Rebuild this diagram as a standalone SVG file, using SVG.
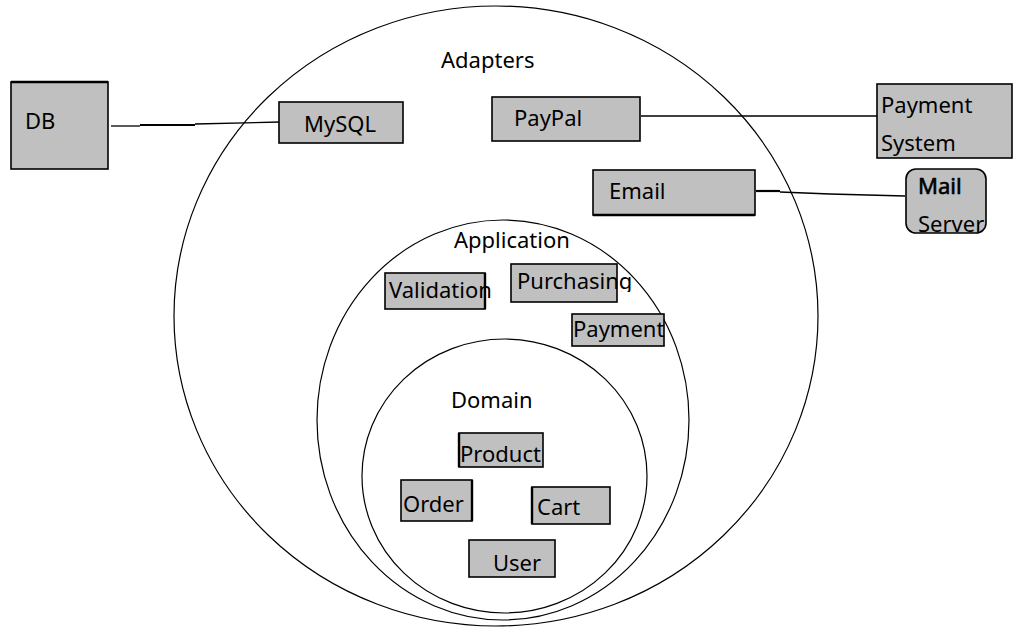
<svg xmlns="http://www.w3.org/2000/svg" width="1024" height="633" viewBox="0 0 1024 633">
<style>
.ring{fill:none;stroke:#000;stroke-width:1.2}
.box{fill:#c0c0c0;stroke:#000;stroke-width:1.6}
.t{font-family:"Noto Sans","Open Sans","Liberation Sans",sans-serif;font-size:22px;fill:#000}
.c{fill:none;stroke:#000;stroke-width:1.3}
</style>
<defs>
<clipPath id="clipPurch"><rect x="500" y="250" width="150" height="42"/></clipPath>
</defs>
<rect width="1024" height="633" fill="#fff"/>
<g id="rings">
<ellipse id="ring-adapters" class="ring" cx="496" cy="316" rx="322" ry="310"/>
<ellipse id="ring-application" class="ring" cx="503" cy="420" rx="186" ry="200"/>
<ellipse id="ring-domain" class="ring" cx="504.5" cy="476" rx="142.5" ry="137"/>
</g>
<g id="labels">
<text class="t" x="441" y="68">Adapters</text>
<text class="t" x="454" y="248">Application</text>
<text class="t" x="451" y="408">Domain</text>
</g>
<g id="connectors">
<polyline class="c" points="111,126 140,126"/>
<polyline class="c" style="stroke-width:2.2" points="140,125 195,125"/>
<polyline class="c" points="195,124 280,122"/>
<polyline class="c" points="641,116 877,116"/>
<polyline class="c" style="stroke-width:2.2" points="756,191 780,191"/>
<polyline class="c" points="780,192 830,194 905,196"/>
</g>
<g id="node-db">
<rect class="box" x="11" y="82" width="97" height="87"/>
<line x1="11" y1="82" x2="108" y2="82" stroke="#000" stroke-width="2.4"/>
<text class="t" x="25" y="129">DB</text>
</g>
<g id="node-mysql">
<rect class="box" x="279" y="102" width="124" height="41"/>
<text class="t" x="304" y="132">MySQL</text>
</g>
<g id="node-paypal">
<rect class="box" x="492" y="97" width="148" height="44"/>
<text class="t" x="514" y="126">PayPal</text>
</g>
<g id="node-payment-system">
<rect class="box" x="877" y="84" width="135" height="74"/>
<text class="t" x="881" y="113">Payment</text>
<text class="t" x="881" y="151">System</text>
</g>
<g id="node-email">
<rect class="box" x="593" y="170" width="162" height="45"/>
<line x1="593" y1="215" x2="755" y2="215" stroke="#000" stroke-width="2.4"/>
<text class="t" x="609" y="199">Email</text>
</g>
<g id="node-mail-server">
<rect class="box" x="906" y="169" width="80" height="64" rx="10" ry="10"/>
<text class="t" x="918" y="194" stroke="#000" stroke-width="0.6">Mail</text>
<text class="t" x="918" y="232">Server</text>
</g>
<g id="node-validation">
<rect class="box" x="385" y="273" width="100" height="36"/>
<line x1="485" y1="273" x2="485" y2="309" stroke="#000" stroke-width="2.4"/>
<text class="t" x="389" y="298">Validation</text>
</g>
<g id="node-purchasing">
<rect class="box" x="511" y="264" width="106" height="38"/>
<text class="t" x="517" y="289" clip-path="url(#clipPurch)">Purchasing</text>
</g>
<g id="node-payment">
<rect class="box" x="572" y="314" width="92" height="32"/>
<text class="t" x="573" y="337">Payment</text>
</g>
<g id="node-product">
<rect class="box" x="459" y="433" width="84" height="34"/>
<line x1="459" y1="433" x2="459" y2="467" stroke="#000" stroke-width="2.4"/>
<text class="t" x="460" y="462">Product</text>
</g>
<g id="node-order">
<rect class="box" x="401" y="480" width="71" height="41"/>
<line x1="472" y1="480" x2="472" y2="521" stroke="#000" stroke-width="2.4"/>
<text class="t" x="403" y="512">Order</text>
</g>
<g id="node-cart">
<rect class="box" x="532" y="487" width="78" height="37"/>
<line x1="532" y1="487" x2="532" y2="524" stroke="#000" stroke-width="2.4"/>
<text class="t" x="537" y="515">Cart</text>
</g>
<g id="node-user">
<rect class="box" x="469" y="540" width="86" height="37"/>
<text class="t" x="493" y="571">User</text>
</g>
</svg>
